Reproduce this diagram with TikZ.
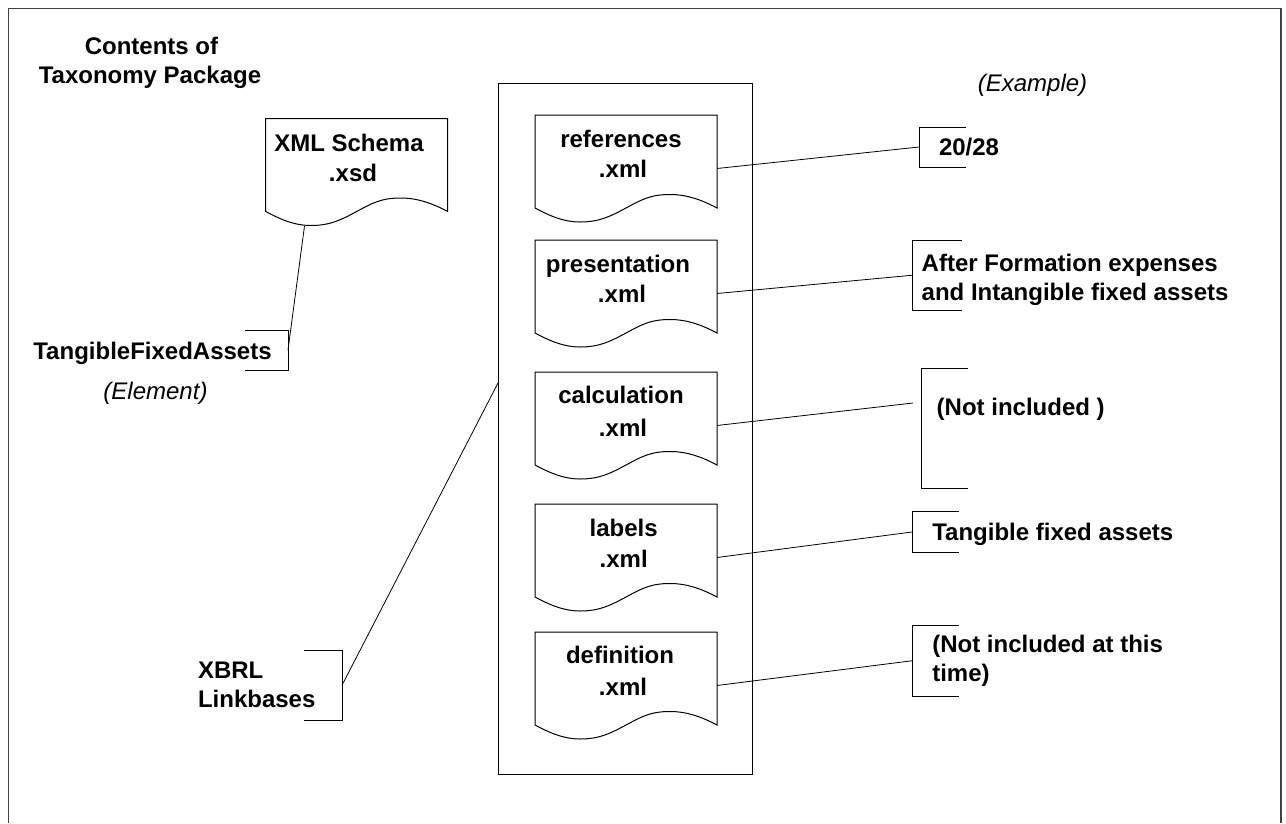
\documentclass[tikz,border=0pt]{standalone}
\usepackage{fontspec}
\setmainfont{Liberation Sans}
\tikzset{
  x=1pt,y=-1pt,
  lineart/.style={line width=1pt,black,line join=miter},
  thinline/.style={line width=0.8pt,black},
  area/.style={inner sep=0pt,outer sep=0pt,minimum width=#1},
  boldtext/.style={font=\fontsize{24}{29}\selectfont\bfseries,inner sep=0pt,outer sep=0pt,anchor=north,execute at begin node={\rule{0pt}{19pt}}},
  itext/.style={font=\fontsize{24}{29}\selectfont\itshape,inner sep=0pt,outer sep=0pt,anchor=north,execute at begin node={\rule{0pt}{19pt}}},
  ltext/.style={boldtext,anchor=north west,align=left},
  ctext/.style={boldtext,align=center,yshift=-1pt},
  lowered/.style={yshift=-1pt}
}
% \docshape{name}{x centre}{top}: invisible node holding a document symbol
\newcommand{\docshape}[3]{%
  \node[area=182pt,minimum height=107pt,anchor=north] (#1) at (#2,#3) {};
  \draw[lineart,shift={(#2-91,#3+93)}] (0,0)
    .. controls (13,7) and (28,14) .. (45,14)
    .. controls (65,14) and (76,8) .. (91,0)
    .. controls (106,-8) and (115,-13.5) .. (135,-13.5)
    .. controls (152,-13.5) and (167,-8) .. (182,0)
    -- (182,-93) -- (0,-93) -- cycle;
}
\newcommand{\brkright}[5]{%
  \node[inner sep=0pt,outer sep=0pt,minimum width=#3pt-#2pt,minimum height=#5pt-#4pt] (#1) at ({(#2+#3)/2},{(#4+#5)/2}) {};
  \draw[lineart] (#1.north east) -- (#1.north west) -- (#1.south west) -- (#1.south east);
}
\newcommand{\brkleft}[5]{%
  \node[inner sep=0pt,outer sep=0pt,minimum width=#3pt-#2pt,minimum height=#5pt-#4pt] (#1) at ({(#2+#3)/2},{(#4+#5)/2}) {};
  \draw[lineart] (#1.north west) -- (#1.north east) -- (#1.south east) -- (#1.south west);
}
\begin{document}
\begin{tikzpicture}
\useasboundingbox (0,0) rectangle (1286,823);
\fill[white] (0,0) rectangle (1286,823);
% outer frame, open at the bottom
\coordinate (fbl) at (8.5,823);
\coordinate (ftl) at (8.5,8.5);
\coordinate (ftr) at (1281,8.5);
\coordinate (fbr) at (1281,823);
\draw[line width=1.2pt,black!75] (fbl) -- (ftl) -- (ftr) -- (fbr);
% linkbase container
\node[draw,line width=1pt,inner sep=0pt,outer sep=0pt,minimum width=254pt,minimum height=691pt,anchor=north west] (linkbases) at (498.5,83) {};

\docshape{xsd}{356.7}{118.5}
\docshape{ref}{626}{115}
\docshape{pre}{626}{240}
\docshape{cal}{626}{372}
\docshape{lab}{626}{504}
\docshape{def}{626}{632}

\node[ctext] (tcontents) at (150,36) {Contents of\hspace*{-3pt}\\Taxonomy Package};
\node[ctext] (txsd) at (353,132.7) {XML Schema\hspace*{8pt}\\[1pt].xsd};
\node[ctext] (tref) at (623,128.7) {references\hspace*{4pt}\\[1pt].xml};
\node[ctext] (tpre) at (622,254.3) {presentation\hspace*{8pt}\\[0.5pt].xml};
\node[ctext] (tcal) at (623,385.3) {calculation\hspace*{4pt}\\[4pt].xml};
\node[ctext] (tlab) at (623.7,517.7) {labels\\[2pt].xml};
\node[ctext] (tdef) at (623,645.3) {definition\hspace*{6pt}\\[3pt].xml};

\node[boldtext] (ttfa) at (152.5,340.7) {TangibleFixedAssets};
\node[itext] (tel) at (155.5,380) {(Element)};
\node[itext] (tex) at (1032.5,72.7) {(Example)};
\node[ltext] (t2028) at (939,136.7) {20/28};
\node[ltext,lowered] (tafter) at (921.7,252.7) {After Formation expenses\\and Intangible fixed assets};
\node[ltext] (tnot) at (936.7,396) {(Not included )};
\node[ltext] (ttang) at (932.3,521.3) {Tangible fixed assets};
\node[ltext,lowered] (tnotat) at (932.3,634.3) {(Not included at this\\time)};
\node[ltext,lowered] (txbrl) at (198,661) {XBRL\\Linkbases};

\brkleft{btfa}{245}{288}{330}{370}
\brkleft{bxbrl}{303.5}{342}{650}{720.5}
\brkright{bnum}{919}{966}{127}{167}
\brkright{bafter}{912}{962}{240}{310.5}
\brkright{bnot}{921}{967.5}{368.5}{488.5}
\brkright{btang}{912}{959}{511.7}{552.3}
\brkright{bnotat}{912}{959}{625.5}{696}

\coordinate (xsdfoot) at (304.5,226);
\coordinate (lbedge) at (498,383);
\coordinate (notend) at (913,403);
\draw[thinline] (xsdfoot) -- (btfa.east);
\draw[thinline] (bxbrl.east) -- (lbedge);
\draw[thinline] (ref.east) -- (bnum.west);
\draw[thinline] (pre.east) -- (bafter.west);
\draw[thinline] (cal.east) -- (notend);
\draw[thinline] (lab.east) -- (btang.west);
\draw[thinline] (def.east) -- (bnotat.west);
\end{tikzpicture}
\end{document}
